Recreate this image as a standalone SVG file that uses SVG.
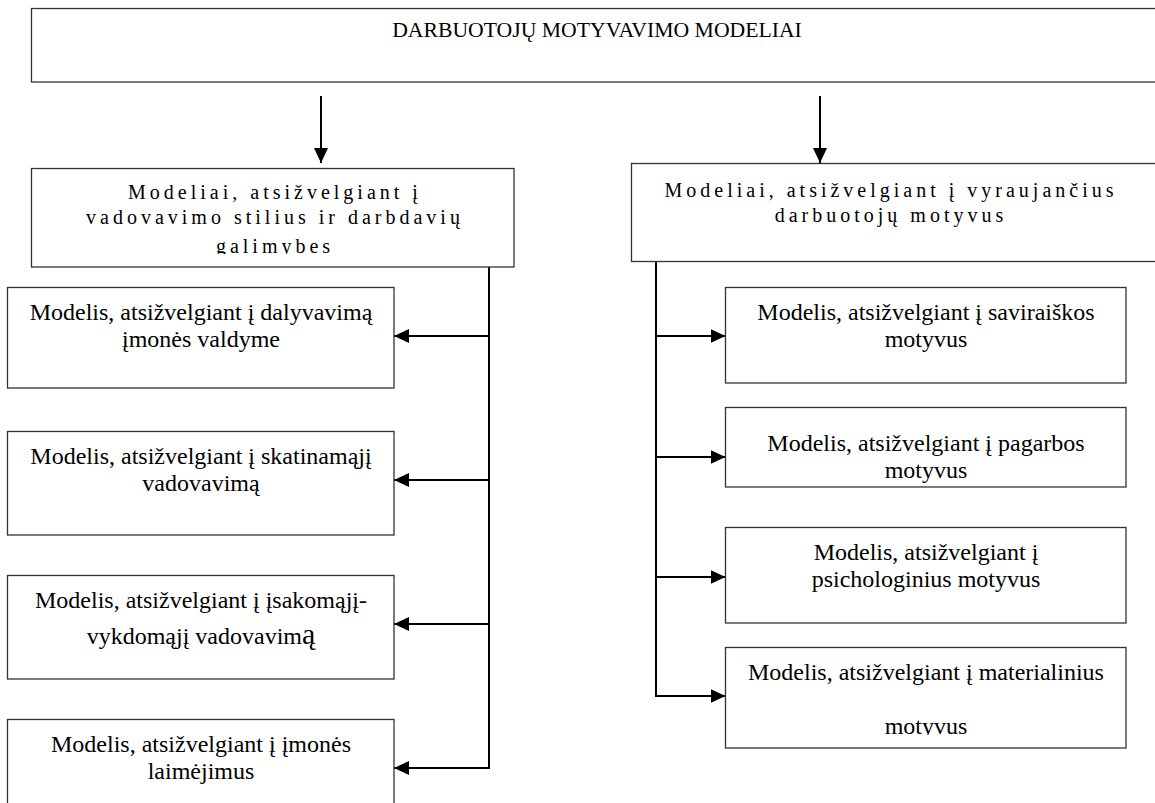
<svg xmlns="http://www.w3.org/2000/svg" width="1155" height="803" viewBox="0 0 1155 803">
  <style>
    .box { fill: #fff; stroke: #333; stroke-width: 1.3; }
    .conn { fill: none; stroke: #000; stroke-width: 2; }
    text { font-family: 'Liberation Serif', 'Times New Roman', 'DejaVu Serif', serif; fill: #000; text-anchor: middle; }
    .title { font-size: 21.7px; }
    .group { font-size: 20px; letter-spacing: 4px; }
    .leaf { font-size: 24px; }
  </style>
  <defs>
    <marker id="arrow" viewBox="0 0 15 14" refX="15" refY="7" markerWidth="15" markerHeight="14" markerUnits="userSpaceOnUse" orient="auto">
      <path d="M0,0 L15,7 L0,14 Z" fill="#000"/>
    </marker>
    <clipPath id="clip-left-group"><rect x="31" y="168" width="484" height="86"/></clipPath>
    <clipPath id="clip-right-leaf4"><rect x="725" y="647" width="402" height="88"/></clipPath>
  </defs>

  <rect width="1155" height="803" fill="#fff"/>

  <!-- root -->
  <g id="root">
    <rect class="box" x="31.5" y="8.5" width="1140" height="73.5"/>
    <text class="title" x="597" y="37">DARBUOTOJŲ MOTYVAVIMO MODELIAI</text>
  </g>

  <!-- connectors -->
  <g id="connectors">
    <line class="conn" x1="321" y1="96" x2="321" y2="163" marker-end="url(#arrow)"/>
    <line class="conn" x1="820" y1="96" x2="820" y2="163" marker-end="url(#arrow)"/>

    <line class="conn" x1="489" y1="260" x2="489" y2="769"/>
    <line class="conn" x1="490" y1="336" x2="394" y2="336" marker-end="url(#arrow)"/>
    <line class="conn" x1="490" y1="480" x2="394" y2="480" marker-end="url(#arrow)"/>
    <line class="conn" x1="490" y1="624" x2="394" y2="624" marker-end="url(#arrow)"/>
    <line class="conn" x1="490" y1="768" x2="394" y2="768" marker-end="url(#arrow)"/>

    <line class="conn" x1="656" y1="262" x2="656" y2="697"/>
    <line class="conn" x1="655" y1="336" x2="725.5" y2="336" marker-end="url(#arrow)"/>
    <line class="conn" x1="655" y1="457" x2="725.5" y2="457" marker-end="url(#arrow)"/>
    <line class="conn" x1="655" y1="577" x2="725.5" y2="577" marker-end="url(#arrow)"/>
    <line class="conn" x1="655" y1="696" x2="725.5" y2="696" marker-end="url(#arrow)"/>
  </g>

  <!-- group: leadership styles -->
  <g id="group-left">
    <rect class="box" x="31.5" y="168.5" width="482.5" height="98.5"/>
    <text class="group" x="275" y="199">Modeliai, atsižvelgiant į</text>
    <text class="group" x="275" y="224">vadovavimo stilius ir darbdavių</text>
    <text class="group" x="275" y="253" clip-path="url(#clip-left-group)">galimybes</text>
  </g>

  <!-- group: prevailing motives -->
  <g id="group-right">
    <rect class="box" x="631.5" y="163.5" width="540" height="98"/>
    <text class="group" x="891" y="197">Modeliai, atsižvelgiant į vyraujančius</text>
    <text class="group" x="891" y="222">darbuotojų motyvus</text>
  </g>

  <!-- leaves under leadership styles -->
  <g id="leaf-participation">
    <rect class="box" x="7.5" y="287.5" width="386.5" height="100.5"/>
    <text class="leaf" x="201" y="320">Modelis, atsižvelgiant į dalyvavimą</text>
    <text class="leaf" x="201" y="347">įmonės valdyme</text>
  </g>
  <g id="leaf-encouraging">
    <rect class="box" x="7.5" y="431.5" width="386.5" height="103.5"/>
    <text class="leaf" x="201" y="464">Modelis, atsižvelgiant į skatinamąjį</text>
    <text class="leaf" x="201" y="491">vadovavimą</text>
  </g>
  <g id="leaf-directive">
    <rect class="box" x="7.5" y="575.5" width="386.5" height="103.5"/>
    <text class="leaf" x="201" y="608">Modelis, atsižvelgiant į įsakomąjį-</text>
    <text class="leaf" x="201" y="644">vykdomąjį vadovavim<tspan font-size="30px">ą</tspan></text>
  </g>
  <g id="leaf-achievements">
    <rect class="box" x="7.5" y="719.5" width="386.5" height="100"/>
    <text class="leaf" x="201" y="752">Modelis, atsižvelgiant į įmonės</text>
    <text class="leaf" x="201" y="779">laimėjimus</text>
  </g>

  <!-- leaves under prevailing motives -->
  <g id="leaf-self-expression">
    <rect class="box" x="725.5" y="287.5" width="400.5" height="95.5"/>
    <text class="leaf" x="926" y="320">Modelis, atsižvelgiant į saviraiškos</text>
    <text class="leaf" x="926" y="347">motyvus</text>
  </g>
  <g id="leaf-respect">
    <rect class="box" x="725.5" y="407.5" width="400.5" height="79.5"/>
    <text class="leaf" x="926" y="451">Modelis, atsižvelgiant į pagarbos</text>
    <text class="leaf" x="926" y="478">motyvus</text>
  </g>
  <g id="leaf-psychological">
    <rect class="box" x="725.5" y="527.5" width="400.5" height="95.5"/>
    <text class="leaf" x="926" y="560">Modelis, atsižvelgiant į</text>
    <text class="leaf" x="926" y="587">psichologinius motyvus</text>
  </g>
  <g id="leaf-material">
    <rect class="box" x="725.5" y="647.5" width="400.5" height="100.5"/>
    <text class="leaf" x="926" y="680">Modelis, atsižvelgiant į materialinius</text>
    <text class="leaf" x="926" y="734" clip-path="url(#clip-right-leaf4)">motyvus</text>
  </g>
</svg>
